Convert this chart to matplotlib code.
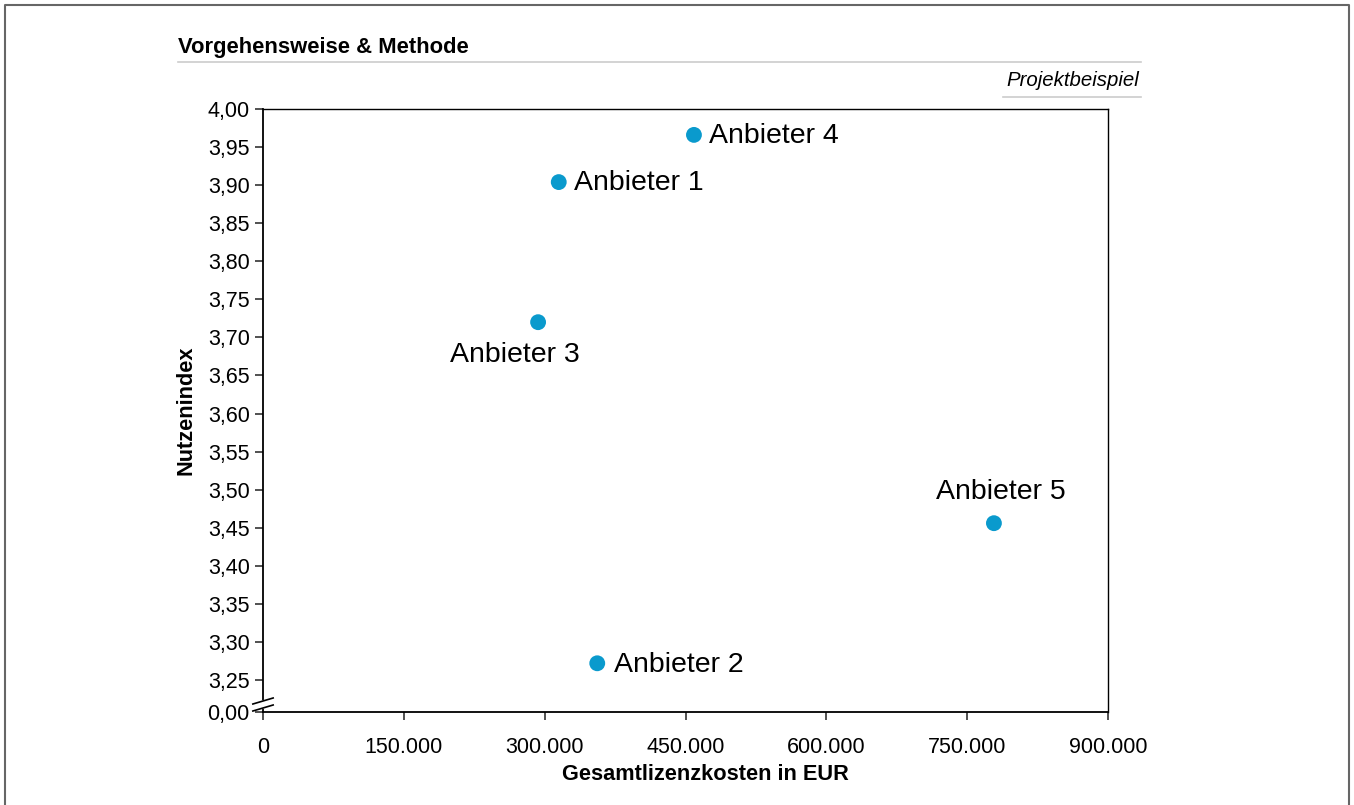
import matplotlib.pyplot as plt
from matplotlib.ticker import FuncFormatter
from matplotlib.lines import Line2D

anbieter = ['Anbieter 1', 'Anbieter 2', 'Anbieter 3', 'Anbieter 4', 'Anbieter 5']
kosten = [315000, 356000, 293000, 459000, 778500]   # Gesamtlizenzkosten in EUR
nutzen = [3.904, 3.272, 3.720, 3.966, 3.456]        # Nutzenindex

x_ticks = [0, 150000, 300000, 450000, 600000, 750000, 900000]
y_ticks = [3.25, 3.30, 3.35, 3.40, 3.45, 3.50, 3.55, 3.60, 3.65, 3.70, 3.75, 3.80, 3.85, 3.90, 3.95, 4.00]
y_break = 3.208  # Achsenbruch: hier steht "0,00"

plt.rcParams['font.family'] = ['Liberation Sans', 'DejaVu Sans']

fig = plt.figure(figsize=(13.54, 8.05), dpi=100)
ax = fig.add_axes([263 / 1354, 1 - 712 / 805, 845 / 1354, 603 / 805])

farbe = '#0a9acd'
ax.scatter(kosten, nutzen, s=130, color=farbe, zorder=3, edgecolors='none')

# Beschriftungen der Punkte
offsets = {
    'Anbieter 1': (11, -1, 'left', 'center'),
    'Anbieter 2': (12, -1, 'left', 'center'),
    'Anbieter 3': (-17, -14, 'center', 'top'),
    'Anbieter 4': (11, -1, 'left', 'center'),
    'Anbieter 5': (5, 13, 'center', 'bottom'),
}
for name, xv, yv in zip(anbieter, kosten, nutzen):
    dx, dy, ha, va = offsets[name]
    ax.annotate(name, (xv, yv), xytext=(dx, dy), textcoords='offset points',
                ha=ha, va=va, fontsize=20.5)

ax.set_xlim(0, 900000)
ax.set_ylim(y_break, 4.0)
ax.set_xticks(x_ticks)
ax.xaxis.set_major_formatter(FuncFormatter(lambda v, p: '0' if v == 0 else f'{int(v):,}'.replace(',', '.')))
ax.set_yticks([y_break] + y_ticks)
ax.set_yticklabels(['0,00'] + [f'{v:.2f}'.replace('.', ',') for v in y_ticks])

ax.tick_params(axis='both', labelsize=15.5, direction='out', length=6, width=1.2, color='#333333')
ax.tick_params(axis='x', pad=12)
for s in ax.spines.values():
    s.set_linewidth(1.3)
ax.spines['right'].set_linewidth(1.0)
ax.spines['top'].set_linewidth(1.0)

ax.set_xlabel('Gesamtlizenzkosten in EUR', fontsize=15.7, fontweight='bold', labelpad=4,
              x=(705 - 263) / 845)
ax.set_ylabel('Nutzenindex', fontsize=15.7, fontweight='bold', labelpad=8)

# Achsenbruch-Markierung
yb1, yb2 = 1 - (701 - 109) / 603, 1 - (708 - 109) / 603
ax.add_patch(plt.Polygon([[-0.012, yb2 - 0.006], [0.012, yb2 + 0.003], [0.012, yb1 + 0.006], [-0.012, yb1 - 0.003]],
                         closed=True, transform=ax.transAxes, facecolor='white', edgecolor='none',
                         clip_on=False, zorder=5))
for yb in (yb1, yb2):
    ax.add_line(Line2D([-0.012, 0.012], [yb - 0.005, yb + 0.005], transform=ax.transAxes,
                       color='black', lw=1.2, clip_on=False, zorder=6))

# Kopfzeile
fig.text(178 / 1354, 1 - 48 / 805, 'Vorgehensweise & Methode', fontsize=15.8, fontweight='bold',
         va='center', ha='left')
fig.add_artist(Line2D([178 / 1354, 1141 / 1354], [1 - 62 / 805] * 2, color='#cccccc', lw=1.2))
fig.add_artist(Line2D([1003 / 1354, 1141 / 1354], [1 - 97 / 805] * 2, color='#cccccc', lw=1.2))
fig.text(1139 / 1354, 1 - 80 / 805, 'Projektbeispiel', fontsize=14.7, fontstyle='italic',
         va='center', ha='right')

# Rahmen
fig.add_artist(Line2D([5 / 1354, 5 / 1354, 1349 / 1354, 1349 / 1354], [0, 1 - 5 / 805, 1 - 5 / 805, 0],
                      color='#666666', lw=1.5))

fig.savefig('out.png', dpi=100)
